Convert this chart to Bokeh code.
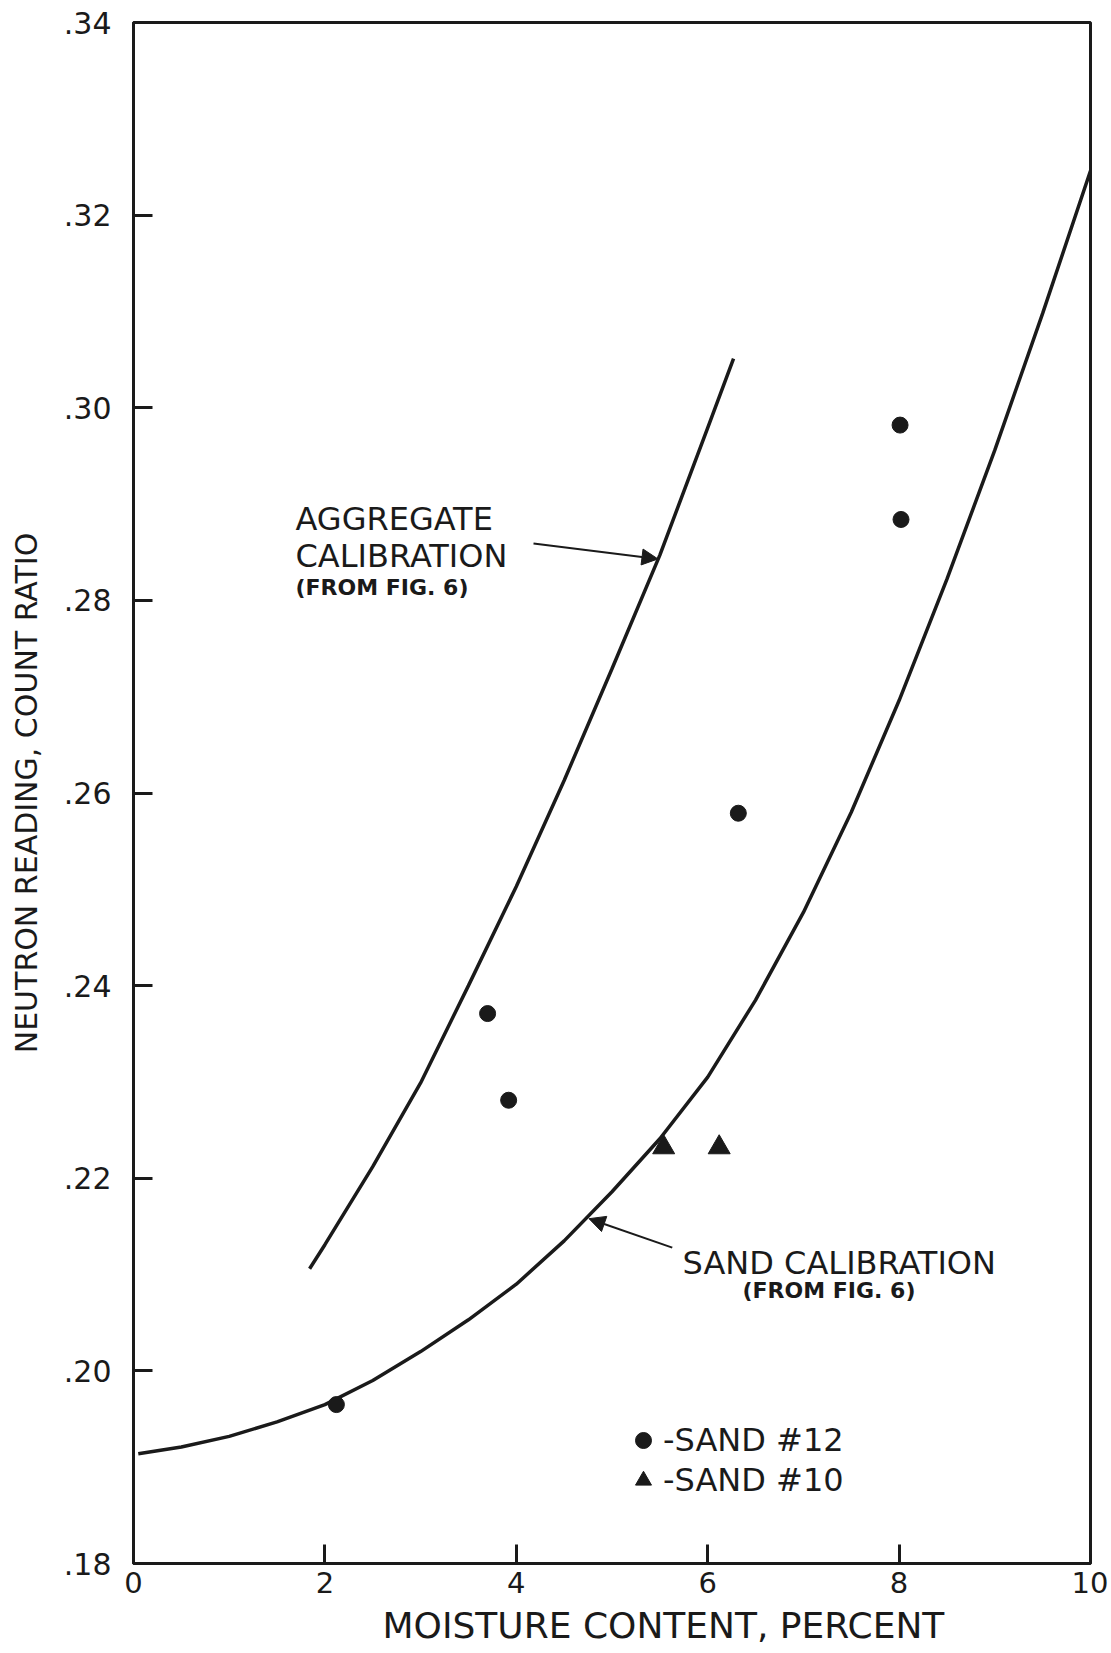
from bokeh.plotting import figure
from bokeh.models import (Range1d, FixedTicker, CustomJSTickFormatter, Label, Arrow,
                          NormalHead, Legend, LegendItem, Title)
from bokeh.embed import file_html
from bokeh.resources import INLINE

FONT = "DejaVu Sans"
INK = "#1a1a1a"

# ---------------- data ----------------
x_ticks = [0, 2, 4, 6, 8, 10]
y_ticks = [0.18, 0.20, 0.22, 0.24, 0.26, 0.28, 0.30, 0.32, 0.34]

x_title = "MOISTURE CONTENT, PERCENT"
y_title = "NEUTRON READING, COUNT RATIO"

# sand calibration curve (from Fig. 6)
sand_curve_x = [0.05, 0.5, 1.0, 1.5, 2.0, 2.5, 3.0, 3.5, 4.0, 4.5, 5.0,
                5.5, 6.0, 6.5, 7.0, 7.5, 8.0, 8.5, 9.0, 9.5, 10.0]
sand_curve_y = [0.1914, 0.1921, 0.1932, 0.1947, 0.1965, 0.1990, 0.2020, 0.2053,
                0.2090, 0.2135, 0.2186, 0.2241, 0.2305, 0.2385, 0.2476, 0.2580,
                0.2696, 0.2822, 0.2956, 0.3098, 0.3246]

# aggregate calibration curve (from Fig. 6)
agg_curve_x = [1.84, 2.0, 2.5, 3.0, 3.5, 4.0, 4.5, 5.0, 5.5, 6.0, 6.27]
agg_curve_y = [0.2106, 0.2131, 0.2212, 0.2299, 0.2400, 0.2503, 0.2613,
               0.2729, 0.2847, 0.2979, 0.3051]

# measured points
sand12_x = [2.12, 3.70, 3.92, 6.32, 8.01, 8.02]
sand12_y = [0.1965, 0.2371, 0.2281, 0.2579, 0.2982, 0.2884]
sand10_x = [5.54, 6.12]
sand10_y = [0.2232, 0.2232]

series_labels = ["-SAND #12", "-SAND #10"]

# ---------------- main figure ----------------
p = figure(width=1108, height=1653,
           x_range=Range1d(0, 10), y_range=Range1d(0.18, 0.34),
           output_backend="svg", toolbar_location=None,
           min_border_left=133, min_border_right=18,
           min_border_top=22, min_border_bottom=90)
p.xgrid.visible = False
p.ygrid.visible = False
p.background_fill_color = "white"
p.border_fill_color = "white"
p.outline_line_color = INK
p.outline_line_width = 3
p.outline_line_alpha = 1.0

for ax in (p.xaxis[0], p.yaxis[0]):
    ax.axis_line_width = 3
    ax.axis_line_color = INK
    ax.major_tick_in = 19
    ax.major_tick_out = 0
    ax.major_tick_line_width = 3
    ax.major_tick_line_color = INK
    ax.minor_tick_line_color = None
    ax.major_label_text_font = FONT
    ax.major_label_text_color = INK

p.xaxis.ticker = FixedTicker(ticks=x_ticks)
p.yaxis.ticker = FixedTicker(ticks=y_ticks)
p.yaxis.formatter = CustomJSTickFormatter(code="return tick.toFixed(2).replace(/^0/, '');")
p.xaxis.major_label_text_font_size = "29px"
p.yaxis.major_label_text_font_size = "30px"
p.xaxis.major_label_standoff = 8
p.yaxis.major_label_standoff = 22

p.yaxis.axis_label = y_title
p.yaxis.axis_label_text_font = FONT
p.yaxis.axis_label_text_font_size = "30px"
p.yaxis.axis_label_text_font_style = "normal"
p.yaxis.axis_label_text_color = INK
p.yaxis.axis_label_standoff = 17

# x-axis title below the tick labels (slightly right of centre, as in the original)
p.add_layout(Title(text=x_title, align="left", offset=249, standoff=14,
                   vertical_align="bottom", text_baseline="alphabetic",
                   text_font=FONT, text_font_size="36px",
                   text_font_style="normal", text_color=INK), "below")

# ---------------- curves & points ----------------
p.line(sand_curve_x, sand_curve_y, line_width=3.5, line_color=INK)
p.line(agg_curve_x, agg_curve_y, line_width=3.5, line_color=INK)

r12 = p.scatter(sand12_x, sand12_y, marker="circle", size=16,
                fill_color=INK, line_color=INK)
r10 = p.scatter(sand10_x, sand10_y, marker="triangle", size=22,
                fill_color=INK, line_color=INK)

# ---------------- annotations ----------------
def txt(x, y, s, size, style="normal"):
    p.add_layout(Label(x=x, y=y, text=s, text_align="left",
                       text_baseline="alphabetic", text_font=FONT,
                       text_font_size=size, text_font_style=style,
                       text_color=INK))

txt(1.693, 0.2885, "AGGREGATE", "32px")
txt(1.693, 0.2846, "CALIBRATION", "32px")
txt(1.693, 0.2813, "(FROM FIG. 6)", "22px", "bold")
txt(5.737, 0.2112, "SAND CALIBRATION", "32px")
txt(6.364, 0.2083, "(FROM FIG. 6)", "22px", "bold")

p.add_layout(Arrow(end=NormalHead(size=16, fill_color=INK, line_color=INK, line_width=1),
                   x_start=4.18, y_start=0.2859, x_end=5.48, y_end=0.2843,
                   line_width=2, line_color=INK))
p.add_layout(Arrow(end=NormalHead(size=16, fill_color=INK, line_color=INK, line_width=1),
                   x_start=5.63, y_start=0.2128, x_end=4.76, y_end=0.2158,
                   line_width=2, line_color=INK))

legend = Legend(items=[LegendItem(label=series_labels[0], renderers=[r12]),
                       LegendItem(label=series_labels[1], renderers=[r10])],
                location=(490, 63), glyph_width=40, glyph_height=40,
                label_standoff=0, spacing=0, padding=0, margin=0,
                label_text_font=FONT, label_text_font_size="32px",
                label_text_color=INK, background_fill_alpha=0,
                border_line_alpha=0)
p.add_layout(legend)

open("out.html", "w").write(file_html(p, INLINE))
